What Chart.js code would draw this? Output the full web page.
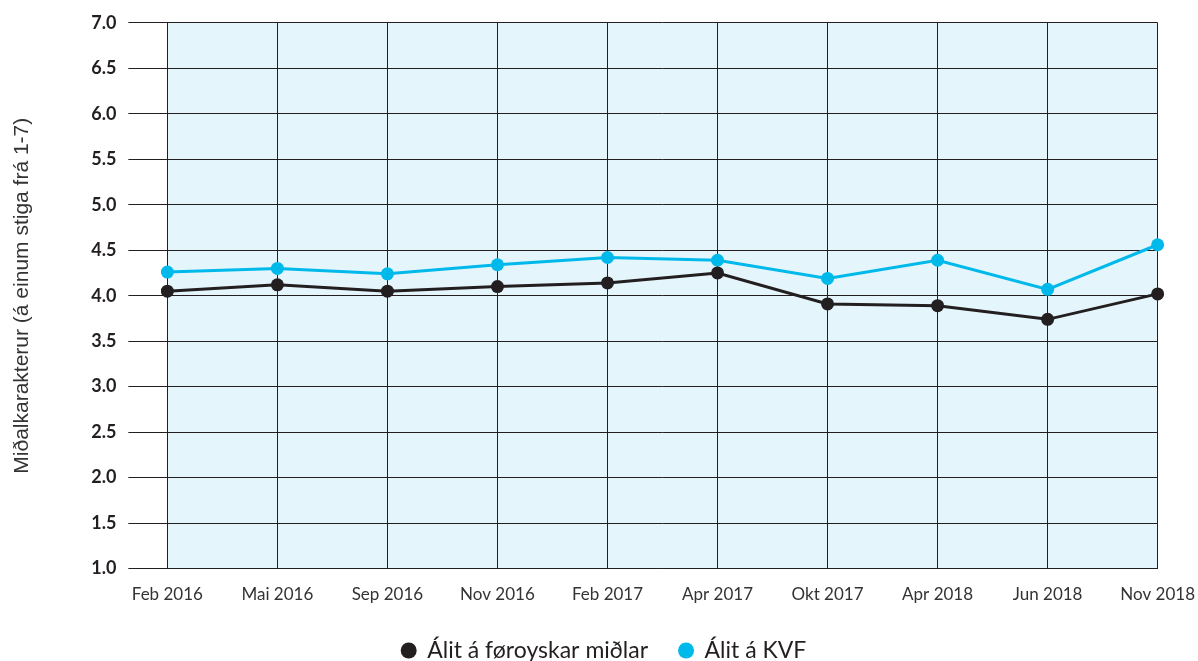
<!DOCTYPE html>
<html>
<head>
<meta charset="utf-8">
<script src="https://cdn.jsdelivr.net/npm/chart.js@4/dist/chart.umd.min.js"></script>
<style>
  html, body { margin: 0; padding: 0; background: #fff; }
  #wrap { width: 1198px; height: 661px; }
</style>
</head>
<body>
<div id="wrap"><canvas id="chart"></canvas></div>
<script>
  // data
  var months = ['Feb 2016', 'Mai 2016', 'Sep 2016', 'Nov 2016', 'Feb 2017', 'Apr 2017', 'Okt 2017', 'Apr 2018', 'Jun 2018', 'Nov 2018'];
  var midlar = [4.05, 4.12, 4.05, 4.10, 4.14, 4.25, 3.91, 3.89, 3.74, 4.02];
  var kvf = [4.26, 4.30, 4.24, 4.34, 4.42, 4.39, 4.19, 4.39, 4.07, 4.56];
  var seriesNames = ['Álit á føroyskar miðlar', 'Álit á KVF'];

  var black = '#231f20';
  var blue = '#00b9eb';

  // light blue fill behind the plot area
  var plotBg = {
    id: 'plotBg',
    beforeDraw: function(chart) {
      var a = chart.chartArea;
      var ctx = chart.ctx;
      ctx.save();
      ctx.fillStyle = '#e4f5fc';
      ctx.fillRect(a.left, a.top, a.right - a.left, a.bottom - a.top);
      ctx.restore();
    }
  };

  var ctx = document.getElementById('chart').getContext('2d');
  var myChart = new Chart(ctx, {
    type: 'line',
    data: {
      labels: months,
      datasets: [{
        label: seriesNames[0],
        data: midlar,
        borderColor: black,
        backgroundColor: black,
        borderWidth: 3,
        pointRadius: 6.5,
        pointHoverRadius: 6.5,
        pointBorderWidth: 0,
        tension: 0
      }, {
        label: seriesNames[1],
        data: kvf,
        borderColor: blue,
        backgroundColor: blue,
        borderWidth: 3,
        pointRadius: 6.5,
        pointHoverRadius: 6.5,
        pointBorderWidth: 0,
        tension: 0
      }]
    },
    options: {
      responsive: true,
      maintainAspectRatio: false,
      animation: false,
      layout: { padding: { top: 16, right: 0, left: 10, bottom: -11 } },
      plugins: {
        tooltip: { enabled: false },
        legend: {
          position: 'bottom',
          labels: {
            usePointStyle: true,
            pointStyle: 'circle',
            boxWidth: 14,
            boxHeight: 11.3,
            padding: 31,
            color: black,
            font: { family: 'Lato', size: 23 }
          }
        }
      },
      scales: {
        x: {
          offset: false,
          grid: { color: '#231f20', lineWidth: 1, drawTicks: true, tickLength: 13, tickColor: 'rgba(0,0,0,0)' },
          border: { color: '#231f20' },
          ticks: {
            color: '#333',
            padding: 3,
            maxRotation: 0,
            font: { family: 'Lato', size: 17 }
          }
        },
        y: {
          min: 1,
          max: 7,
          grid: { color: '#231f20', lineWidth: 1, tickLength: 39 },
          border: { display: false },
          ticks: {
            stepSize: 0.5,
            color: black,
            padding: 12,
            font: { family: 'Lato', size: 18, weight: 'bold' },
            callback: function(v) { return v.toFixed(1); }
          },
          title: {
            display: true,
            text: 'Miðalkarakterur (á einum stiga frá 1-7)',
            color: '#333',
            font: { family: 'Liberation Sans', size: 21 },
            padding: { top: 0, bottom: 44 }
          }
        }
      }
    },
    plugins: [plotBg]
  });
</script>
</body>
</html>
